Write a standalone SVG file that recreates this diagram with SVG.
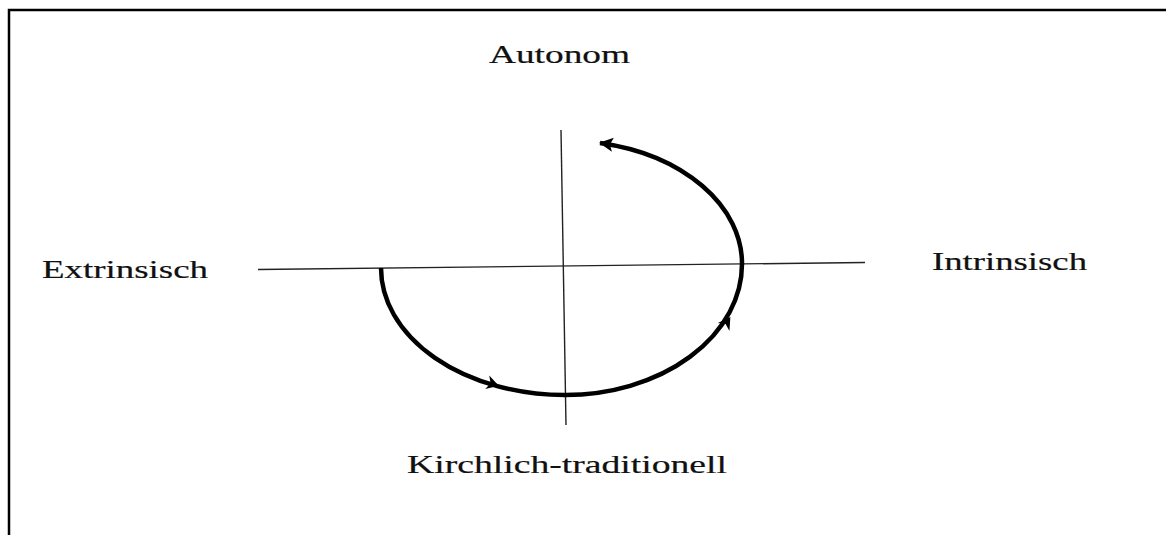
<svg xmlns="http://www.w3.org/2000/svg" xmlns:xlink="http://www.w3.org/1999/xlink" width="1166" height="535" viewBox="0 0 1166 535">
  <style>
    .lbl { font-family: "Liberation Serif", "Times New Roman", serif; font-size: 26px; fill: #111; stroke: #111; stroke-width: 0.2; }
    .axis { stroke: #222; stroke-width: 1.4; fill: none; }
    .cycle { stroke: #000; stroke-width: 4.5; fill: none; }
    .frame { stroke: #000; stroke-width: 2.5; fill: none; }
  </style>
  <defs>
    <marker id="endArrow" viewBox="0 0 14 14" refX="13" refY="7" markerWidth="14" markerHeight="14" markerUnits="userSpaceOnUse" orient="auto">
      <path d="M0,0 L14,7 L0,14 L3,7 Z" fill="#000"/>
    </marker>
    <path id="midArrow" d="M6,0 L-6,-7 L-2.5,0 L-6,7 Z" fill="#000"/>
  </defs>
  <rect width="1166" height="535" fill="#fff"/>
  <path class="frame" d="M9,535 L9,10 L1166,10"/>

  <g id="connectors">
    <line class="axis" x1="258" y1="269.5" x2="865" y2="262.5"/>
    <line class="axis" x1="561" y1="130" x2="566" y2="425"/>
    <path class="cycle" d="M381,268 A184,127 0 0 0 565,395 A177,131 0 0 0 742,264 A177,123 0 0 0 600,143" marker-end="url(#endArrow)"/>
    <use xlink:href="#midArrow" transform="translate(493,384) rotate(16.5)"/>
    <use xlink:href="#midArrow" transform="translate(727,322) rotate(-56)"/>
  </g>

  <g id="node-autonom">
    <text class="lbl" x="489" y="63" textLength="141" lengthAdjust="spacingAndGlyphs">Autonom</text>
  </g>
  <g id="node-extrinsisch">
    <text class="lbl" x="42" y="278" textLength="166" lengthAdjust="spacingAndGlyphs">Extrinsisch</text>
  </g>
  <g id="node-intrinsisch">
    <text class="lbl" x="932" y="270" textLength="155" lengthAdjust="spacingAndGlyphs">Intrinsisch</text>
  </g>
  <g id="node-kirchlich">
    <text class="lbl" x="407" y="473" textLength="320" lengthAdjust="spacingAndGlyphs">Kirchlich-traditionell</text>
  </g>
</svg>
